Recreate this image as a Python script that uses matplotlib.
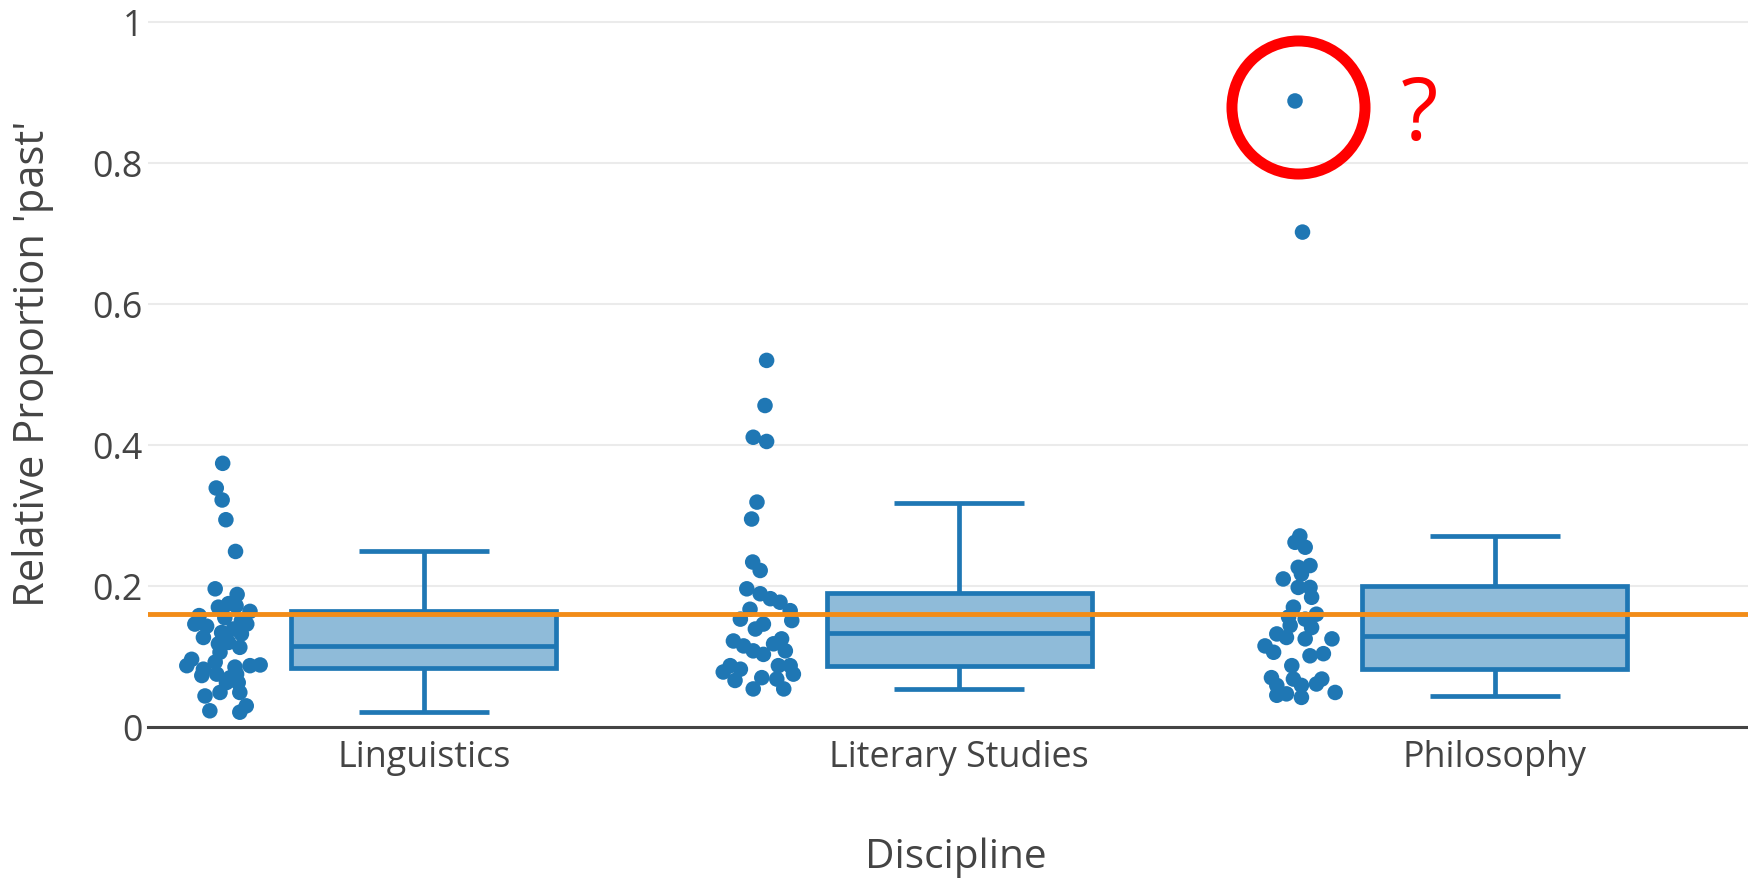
import matplotlib
matplotlib.use("Agg")
import matplotlib.pyplot as plt

plt.rcParams['font.family'] = ['Open Sans', 'DejaVu Sans']

# ---------------- data ----------------
categories = ['Linguistics', 'Literary Studies', 'Philosophy']

ling_values = [0.374, 0.339, 0.322, 0.294, 0.249, 0.196, 0.188, 0.170, 0.175, 0.172,
               0.164, 0.158, 0.146, 0.143, 0.155, 0.151, 0.146, 0.127, 0.134, 0.139,
               0.132, 0.118, 0.120, 0.113, 0.106, 0.096, 0.087, 0.082, 0.092, 0.085,
               0.087, 0.088, 0.073, 0.075, 0.070, 0.075, 0.063, 0.049, 0.049, 0.044,
               0.023, 0.021, 0.030, 0.063]
ling_jitter = [-0.376, -0.388, -0.377, -0.370, -0.352, -0.390, -0.349, -0.384, -0.365, -0.351,
               -0.325, -0.420, -0.428, -0.406, -0.372, -0.341, -0.331, -0.412, -0.378, -0.356,
               -0.341, -0.384, -0.365, -0.344, -0.381, -0.434, -0.443, -0.412, -0.390, -0.353,
               -0.325, -0.306, -0.415, -0.387, -0.362, -0.350, -0.347, -0.381, -0.344, -0.409,
               -0.400, -0.344, -0.332, -0.369]

lit_values = [0.520, 0.456, 0.411, 0.405, 0.319, 0.295, 0.234, 0.222, 0.196, 0.189,
              0.182, 0.177, 0.165, 0.167, 0.153, 0.146, 0.151, 0.139, 0.122, 0.115,
              0.125, 0.118, 0.108, 0.103, 0.108, 0.087, 0.078, 0.082, 0.066, 0.087,
              0.087, 0.075, 0.070, 0.054, 0.054, 0.068]
lit_jitter = [-0.360, -0.363, -0.385, -0.360, -0.378, -0.388, -0.386, -0.372, -0.397, -0.372,
              -0.353, -0.335, -0.316, -0.391, -0.409, -0.366, -0.313, -0.381, -0.422, -0.403,
              -0.332, -0.347, -0.385, -0.366, -0.325, -0.428, -0.441, -0.409, -0.419, -0.338,
              -0.316, -0.310, -0.369, -0.385, -0.328, -0.341]

phil_values = [0.888, 0.702, 0.271, 0.262, 0.255, 0.229, 0.2265, 0.217, 0.210, 0.198,
               0.198, 0.184, 0.170, 0.156, 0.160, 0.153, 0.141, 0.144, 0.132, 0.127,
               0.115, 0.106, 0.125, 0.125, 0.101, 0.104, 0.087, 0.070, 0.068, 0.068,
               0.059, 0.059, 0.047, 0.045, 0.042, 0.049, 0.061]
phil_jitter = [-0.373, -0.359, -0.364, -0.373, -0.354, -0.345, -0.367, -0.361, -0.395, -0.345,
               -0.367, -0.342, -0.376, -0.385, -0.333, -0.354, -0.342, -0.382, -0.407, -0.389,
               -0.429, -0.413, -0.354, -0.304, -0.345, -0.320, -0.379, -0.417, -0.376, -0.323,
               -0.407, -0.361, -0.389, -0.407, -0.361, -0.298, -0.333]

# box statistics as drawn
box_q1 = [0.0837, 0.087, 0.0823]
box_median = [0.1154, 0.133, 0.1295]
box_q3 = [0.164, 0.190, 0.1996]
box_whislo = [0.0208, 0.054, 0.0435]
box_whishi = [0.249, 0.318, 0.2705]

reference_value = 0.16

ytick_values = [0, 0.2, 0.4, 0.6, 0.8, 1]
ytick_labels = ['0', '0.2', '0.4', '0.6', '0.8', '1']

x_title = 'Discipline'
y_title = "Relative Proportion 'past'"

# ---------------- figure ----------------
W, H = 1749, 879
fig = plt.figure(figsize=(W / 100, H / 100), dpi=100)
ax = fig.add_axes([148 / W, 151 / H, (W - 148) / W, 728 / H])

blue = '#1f77b4'
text_col = '#444444'

positions = list(range(len(categories)))

stats = []
for i, name in enumerate(categories):
    stats.append(dict(label=name, q1=box_q1[i], med=box_median[i], q3=box_q3[i],
                      whislo=box_whislo[i], whishi=box_whishi[i], fliers=[]))

ax.bxp(stats, positions=positions, widths=0.495, capwidths=0.243, patch_artist=True,
       showfliers=False,
       boxprops=dict(facecolor='#8fbbd9', edgecolor=blue, linewidth=3.4),
       whiskerprops=dict(color=blue, linewidth=3.4, solid_capstyle='butt'),
       capprops=dict(color=blue, linewidth=3.4, solid_capstyle='butt'),
       medianprops=dict(color=blue, linewidth=3.4, solid_capstyle='butt'),
       zorder=3)

for i, (vals, jit) in enumerate([(ling_values, ling_jitter),
                                  (lit_values, lit_jitter),
                                  (phil_values, phil_jitter)]):
    xs = [positions[i] + j for j in jit]
    ax.scatter(xs, vals, s=125, color=blue, edgecolors='none', zorder=4)

ax.axhline(reference_value, color='#f28c18', linewidth=3.5, zorder=5)

# red annotation around the top Philosophy point
ax.plot([1.633], [0.880], marker='o', markersize=95.8, markerfacecolor='none',
        markeredgecolor='#ff0000', markeredgewidth=7.9, zorder=6, clip_on=False)
ax.text(1.86, 0.866, '?', color='#ff0000', fontsize=62, ha='center', va='center', zorder=6)

ax.set_xlim(-0.5155, 2.475)
ax.set_ylim(0, 728 / 705)

ax.set_xticks(positions)
ax.set_xticklabels(categories)
ax.set_yticks(ytick_values)
ax.set_yticklabels(ytick_labels)
ax.tick_params(axis='x', length=0, pad=9, labelsize=25.8, labelcolor=text_col)
ax.tick_params(axis='y', length=0, pad=3.6, labelsize=25.8, labelcolor=text_col)

ax.yaxis.grid(True, color='#ebebeb', linewidth=1.5)
ax.set_axisbelow(True)
for s in ['top', 'right', 'left']:
    ax.spines[s].set_visible(False)
ax.spines['bottom'].set_color(text_col)
ax.spines['bottom'].set_linewidth(2.2)
ax.spines['bottom'].set_zorder(2.5)

ax.set_xlabel(x_title, fontsize=29.2, color=text_col)
ax.xaxis.set_label_coords((956 - 148) / 1601, (728 - 838) / 728)
ax.set_ylabel(y_title, fontsize=30, color=text_col)
ax.yaxis.set_label_coords((54 - 148) / 1601, 0.5)

fig.savefig('out.png', dpi=100, facecolor='white')
